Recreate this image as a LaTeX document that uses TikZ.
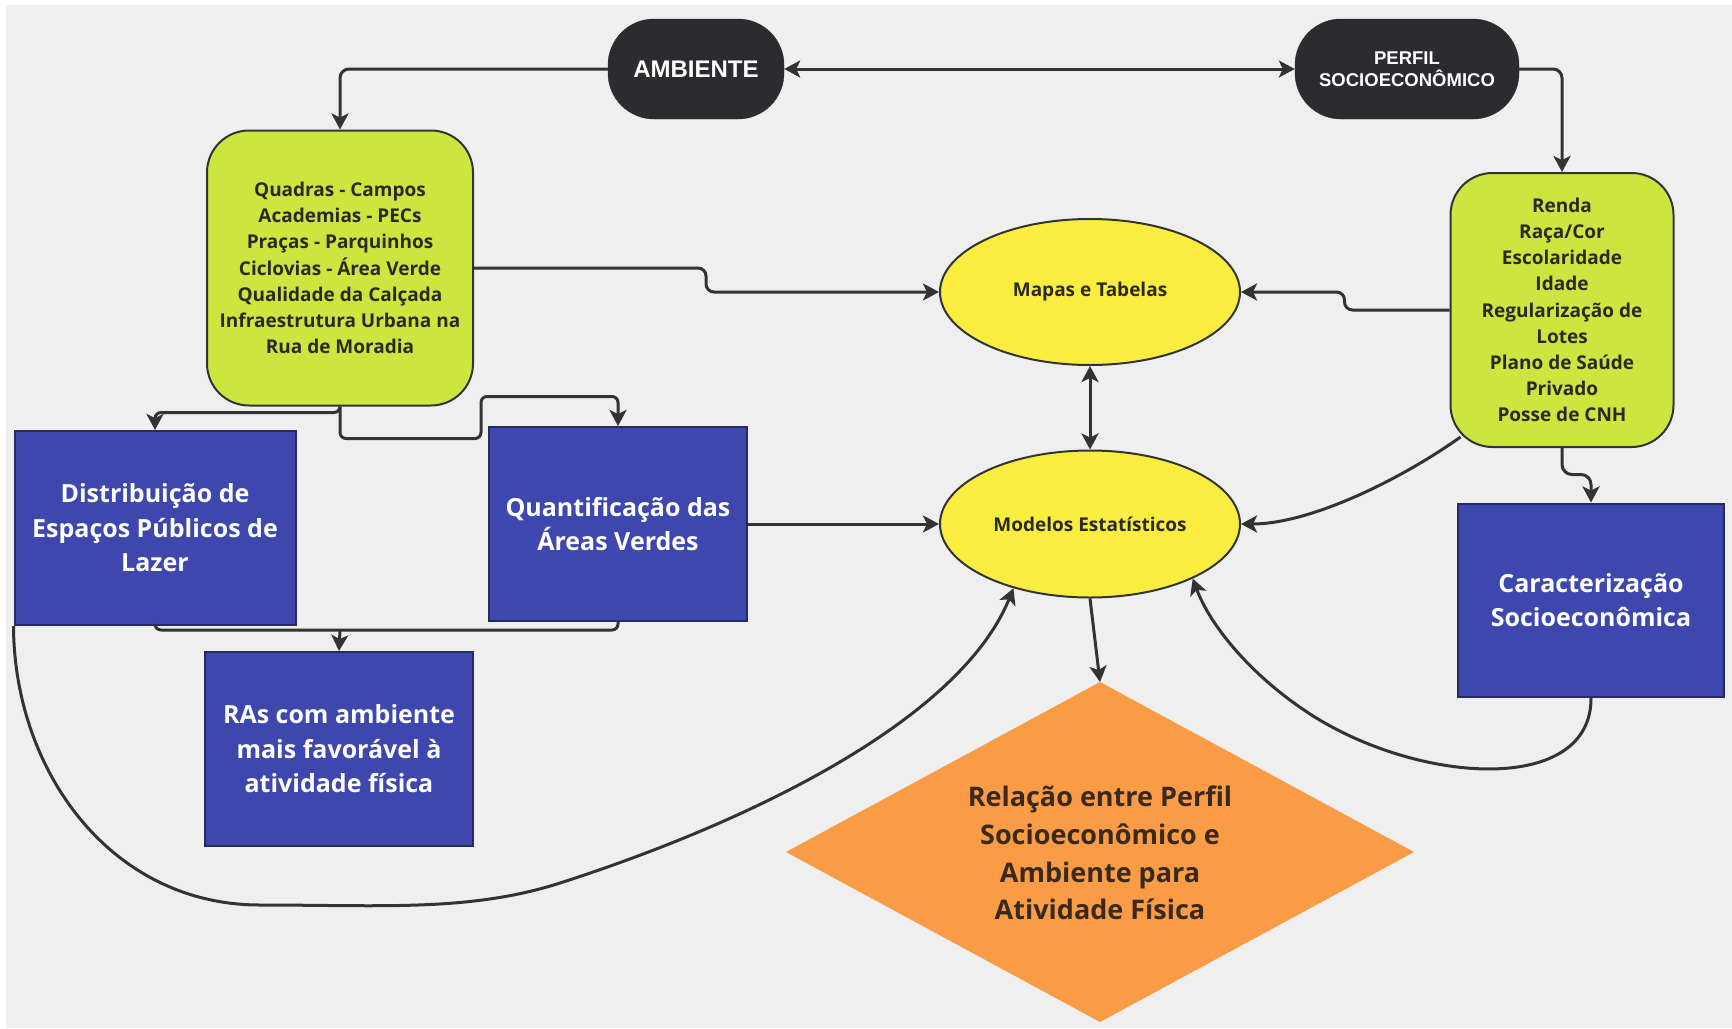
\documentclass[tikz,border=0pt]{standalone}
\usepackage{fontspec}
\usetikzlibrary{arrows.meta,shapes.geometric,calc}
\newfontfamily\osb{Open Sans}
\newfontfamily\lsb{Liberation Sans}
\definecolor{bgc}{HTML}{EFEFEF}
\definecolor{pillc}{HTML}{2B2B30}
\definecolor{greenc}{HTML}{CDE53F}
\definecolor{yellowc}{HTML}{F9EE40}
\definecolor{bluec}{HTML}{3D47AE}
\definecolor{bluedark}{HTML}{252A60}
\definecolor{orangec}{HTML}{F99C45}
\definecolor{linec}{HTML}{333333}
\definecolor{textc}{HTML}{2A2A22}
\definecolor{reltext}{HTML}{3A2A1E}
\tikzset{
  >={Stealth[length=16pt,width=17pt,inset=4pt]},
  pill/.style={fill=pillc, draw=pillc, rounded corners=46pt, text=white, align=center, inner sep=0pt},
  greenbox/.style={draw=linec, line width=2pt, fill=greenc, rounded corners=42pt, align=center, inner sep=0pt, text=textc, font=\osb\bfseries\fontsize{19pt}{26.2pt}\selectfont},
  bluebox/.style={draw=bluedark, line width=2pt, fill=bluec, text=white, align=center, inner sep=0pt, font=\osb\bfseries\fontsize{25pt}{34.5pt}\selectfont},
  ell/.style={ellipse, draw=linec, line width=2pt, fill=yellowc, minimum width=300pt, minimum height=146pt, inner sep=0pt, text=textc, font=\osb\bfseries\fontsize{19pt}{24pt}\selectfont},
  conn/.style={draw=linec, line width=3pt},
}
\begin{document}
\begin{tikzpicture}[x=1pt,y=-1pt]
\fill[white] (0,0) rectangle (1732,1028);
\fill[bgc] (6,5) rectangle (1732,1028);
\useasboundingbox (0,0) rectangle (1732,1028);

% nodes
\node[pill, minimum width=176pt, minimum height=100pt, font=\lsb\bfseries\fontsize{24pt}{28pt}\selectfont] (amb) at (696,69) {AMBIENTE};
\node[pill, minimum width=224pt, minimum height=100pt, font=\lsb\bfseries\fontsize{18.5pt}{22pt}\selectfont] (per) at (1407,69) {PERFIL\\SOCIOECONÔMICO};

\node[greenbox, minimum width=266pt, minimum height=275pt] (gl) at (340,268)
  {Quadras - Campos\\Academias - PECs\\Praças - Parquinhos\\Ciclovias - Área Verde\\Qualidade da Calçada\\Infraestrutura Urbana na\\Rua de Moradia};
\node[greenbox, minimum width=223pt, minimum height=274pt] (gr) at (1562,310)
  {Renda\\Raça/Cor\\Escolaridade\\Idade\\Regularização de\\Lotes\\Plano de Saúde\\Privado\\Posse de CNH};

\node[ell] (map) at (1090,292) {Mapas e Tabelas};
\node[ell, minimum height=147pt] (mod) at (1090,524) {Modelos Estatísticos};

\node[bluebox, minimum width=281pt, minimum height=194pt] (dist) at (155,528) {Distribuição de\\Espaços Públicos de\\Lazer};
\node[bluebox, minimum width=258pt, minimum height=194pt] (quant) at (618,524) {Quantificação das\\Áreas Verdes};
\node[bluebox, minimum width=268pt, minimum height=194pt] (ras) at (339,749) {RAs com ambiente\\mais favorável à\\atividade física};
\node[bluebox, minimum width=266pt, minimum height=193pt] (car) at (1591,600) {Caracterização\\Socioeconômica};

% diamond
\coordinate (dT) at (1100,682);
\coordinate (dR) at (1414,852);
\coordinate (dB) at (1100,1022);
\coordinate (dL) at (786,852);
\fill[orangec] (dT) -- (dR) -- (dB) -- (dL) -- cycle;
\node[align=center, text=reltext, font=\osb\bfseries\fontsize{27pt}{37.7pt}\selectfont] (rel) at (1100,853)
  {Relação entre Perfil\\Socioeconômico e\\Ambiente para\\Atividade Física};

% connectors
\draw[conn,<->] (amb.east) -- (per.west);
\draw[conn,->,rounded corners=9pt] (amb.west) -| (gl.north);
\draw[conn,->,rounded corners=9pt] (per.east) -| (gr.north);
\draw[conn,->,rounded corners=8pt] (gl.east) -- ++(232,0) |- (map.west);
\draw[conn,->,rounded corners=8pt] (gr.west) -- ++(-105,0) |- (map.east);
\draw[conn,<->] (map.south) -- (mod.north);
\draw[conn,->,rounded corners=6pt] (gl.south) -- ++(0,6) -| (dist.north);
\draw[conn,->,rounded corners=6pt] (gl.south) -- ++(0,32) -- ++(141,0) -- ++(0,-42) -| (quant.north);
\coordinate (busmid) at (340,630);
\draw[conn,rounded corners=6pt] (dist.south) |- (busmid) -| (quant.south);
\draw[conn,->] (busmid) -- (ras.north);
\draw[conn,->] (quant.east) -- (mod.west);
\draw[conn,->,rounded corners=10pt] (gr.south) |- ($(car.north)+(0,-28)$) -- (car.north);
\draw[conn,->] (mod.south) -- (dT);

\draw[conn,->] (dist.south west) .. controls (14,770) and (110,905) .. (260,905)
  .. controls (380,905) and (470,912) .. (560,883)
  .. controls (750,822) and (960,720) .. (mod.220);
\draw[conn,->] (car.south) .. controls (1592,795) and (1420,785) .. (1310,714)
  .. controls (1250,675) and (1210,625) .. (mod.-28);
\draw[conn,->] ($(gr.south west)+(11,-11)$) .. controls (1400,480) and (1310,524) .. (mod.east);
\end{tikzpicture}
\end{document}
